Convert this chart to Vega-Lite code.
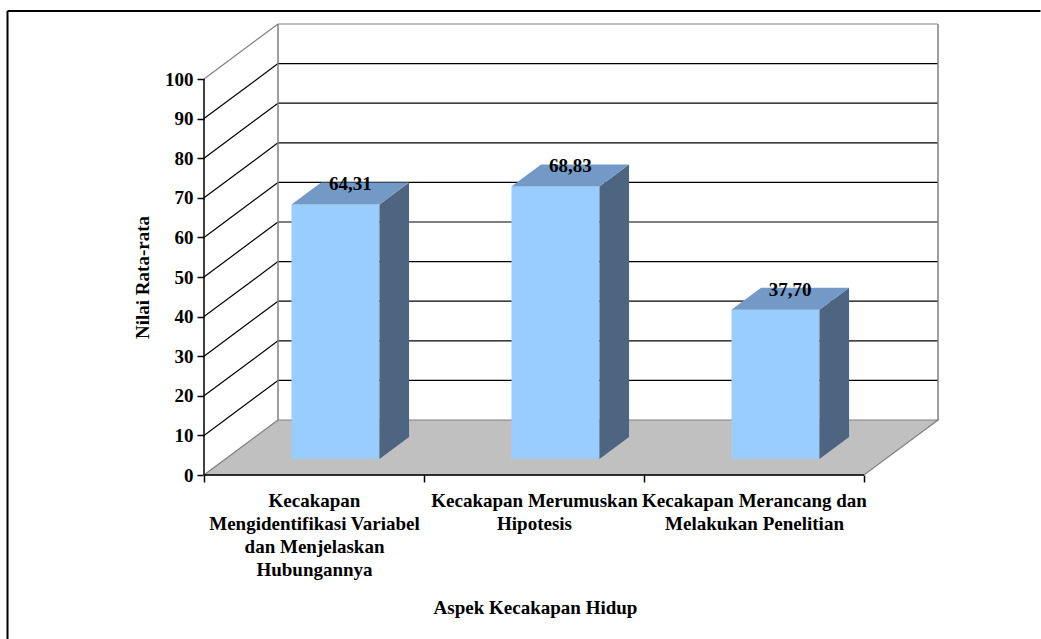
{
  "$schema": "https://vega.github.io/schema/vega-lite/v6.json",
  "width": 734,
  "height": 451,
  "autosize": {"type": "none"},
  "padding": {"left": 204, "top": 24, "right": 103, "bottom": 164},
  "background": "white",
  "config": {
    "view": {"stroke": null},
    "font": "Liberation Serif",
    "axis": {
      "labelFont": "Liberation Serif",
      "titleFont": "Liberation Serif",
      "labelFontWeight": "bold",
      "titleFontWeight": "bold",
      "labelFontSize": 19,
      "titleFontSize": 19,
      "labelColor": "#000000",
      "titleColor": "#000000",
      "tickColor": "#000000",
      "labelLimit": 0,
      "grid": false,
      "domain": false
    }
  },
  "datasets": {
    "bars": [
      {"aspek": "Kecakapan Mengidentifikasi Variabel dan Menjelaskan Hubungannya", "nilai": 64.31},
      {"aspek": "Kecakapan Merumuskan Hipotesis", "nilai": 68.83},
      {"aspek": "Kecakapan Merancang dan Melakukan Penelitian", "nilai": 37.70}
    ],
    "ticks": [
      {"t": 0}, {"t": 10}, {"t": 20}, {"t": 30}, {"t": 40}, {"t": 50},
      {"t": 60}, {"t": 70}, {"t": 80}, {"t": 90}, {"t": 100}
    ]
  },
  "layer": [
    {
      "data": {"values": [{}]},
      "mark": {"type": "rule", "color": "#000000", "strokeWidth": 2},
      "encoding": {
        "x": {"datum": -1.3932, "type": "quantitative"},
        "x2": {"datum": 3.3023},
        "y": {"datum": 117.17, "type": "quantitative"}
      }
    },
    {
      "data": {"values": [{}]},
      "mark": {"type": "rule", "color": "#000000", "strokeWidth": 2},
      "encoding": {
        "x": {"datum": -1.3932, "type": "quantitative"},
        "y": {"datum": -41.41, "type": "quantitative"},
        "y2": {"datum": 117.17}
      }
    },
    {
      "data": {"name": "ticks"},
      "transform": [
        {"filter": "datum.t == 0"},
        {"calculate": "[0, 1]", "as": "d"},
        {"flatten": ["d"]},
        {"calculate": "-0.5 + datum.d * 0.3364", "as": "fx"},
        {"calculate": "2.5 + datum.d * 0.3364", "as": "fx2"},
        {"calculate": "datum.d * 13.89", "as": "fy"}
      ],
      "mark": {"type": "area", "orient": "horizontal", "fill": "#C0C0C0", "stroke": "#808080", "strokeWidth": 1.2},
      "encoding": {
        "y": {"field": "fy", "type": "quantitative", "stack": null},
        "x": {"field": "fx", "type": "quantitative", "stack": null},
        "x2": {"field": "fx2"}
      }
    },
    {
      "data": {"name": "ticks"},
      "transform": [
        {"filter": "datum.t > 0"},
        {"calculate": "-0.1636", "as": "gx"},
        {"calculate": "2.8364", "as": "gx2"},
        {"calculate": "datum.t + 13.89", "as": "gy"}
      ],
      "mark": {"type": "rule", "strokeWidth": 1.2},
      "encoding": {
        "x": {"field": "gx", "type": "quantitative"},
        "x2": {"field": "gx2"},
        "y": {"field": "gy", "type": "quantitative"},
        "color": {"condition": {"test": "datum.t == 100", "value": "#808080"}, "value": "#000000"}
      }
    },
    {
      "data": {"name": "ticks"},
      "transform": [
        {"filter": "datum.t > 0"},
        {"calculate": "-0.5", "as": "lx"},
        {"calculate": "-0.1636", "as": "lx2"},
        {"calculate": "datum.t + 13.89", "as": "ly2"}
      ],
      "mark": {"type": "rule", "strokeWidth": 1.2},
      "encoding": {
        "x": {"field": "lx", "type": "quantitative"},
        "x2": {"field": "lx2"},
        "y": {"field": "t", "type": "quantitative"},
        "y2": {"field": "ly2"},
        "color": {"condition": {"test": "datum.t == 100", "value": "#808080"}, "value": "#000000"}
      }
    },
    {
      "data": {"name": "ticks"},
      "transform": [
        {"filter": "datum.t == 0"},
        {"calculate": "[-0.1636, 2.8364]", "as": "wx"},
        {"flatten": ["wx"]},
        {"calculate": "13.89", "as": "wy"},
        {"calculate": "113.89", "as": "wy2"}
      ],
      "mark": {"type": "rule", "color": "#808080", "strokeWidth": 1.5},
      "encoding": {
        "x": {"field": "wx", "type": "quantitative"},
        "y": {"field": "wy", "type": "quantitative"},
        "y2": {"field": "wy2"}
      }
    },
    {
      "data": {"values": [{}]},
      "mark": {"type": "rule", "color": "#000000", "strokeWidth": 1.5},
      "encoding": {
        "x": {"datum": -0.5, "type": "quantitative"},
        "y": {"datum": 0, "type": "quantitative"},
        "y2": {"datum": 100}
      }
    },
    {
      "data": {"values": [{}]},
      "mark": {"type": "rule", "color": "#000000", "strokeWidth": 1.5},
      "encoding": {
        "x": {"datum": -0.5, "type": "quantitative"},
        "x2": {"datum": 2.5},
        "y": {"datum": 0, "type": "quantitative"}
      }
    },
    {
      "data": {"name": "bars"},
      "transform": [
        {"window": [{"op": "row_number", "as": "rn"}]},
        {"calculate": "datum.rn - 1", "as": "i"},
        {"calculate": "datum.i - 0.2 + 0.0976", "as": "bx"},
        {"calculate": "datum.i + 0.2 + 0.0976", "as": "bx2"},
        {"calculate": "4.03", "as": "by"},
        {"calculate": "datum.nilai + 4.03", "as": "by2"}
      ],
      "mark": {"type": "rect", "fill": "#99CCFF"},
      "encoding": {
        "x": {
          "field": "bx",
          "type": "quantitative",
          "scale": {"domain": [-0.5, 2.8364], "nice": false, "zero": false},
          "axis": {
            "values": [-0.5, 0, 0.5, 1, 1.5, 2, 2.5],
            "tickSize": 7,
            "tickWidth": 1.5,
            "tickOpacity": {"condition": {"test": "datum.value % 1 != 0", "value": 1}, "value": 0},
            "labelExpr": "datum.value == 0 ? ['Kecakapan', 'Mengidentifikasi Variabel', 'dan Menjelaskan', 'Hubungannya'] : datum.value == 1 ? ['Kecakapan Merumuskan', 'Hipotesis'] : datum.value == 2 ? ['Kecakapan Merancang dan', 'Melakukan Penelitian'] : ''",
            "labelFont": "Liberation Serif",
            "labelFontWeight": "bold",
            "labelFontSize": 19,
            "labelLimit": 0,
            "labelPadding": 9,
            "labelLineHeight": 23,
            "labelOverlap": false,
            "labelBound": false,
            "labelFlush": false,
            "labelAlign": "center",
            "labelBaseline": "top",
            "title": "Aspek Kecakapan Hidup",
            "titleFont": "Liberation Serif",
            "titleFontWeight": "bold",
            "titleFontSize": 19,
            "titleX": 331,
            "titleY": 132,
            "titleAlign": "center",
            "titleBaseline": "middle"
          }
        },
        "x2": {"field": "bx2"},
        "y": {
          "field": "by",
          "type": "quantitative",
          "scale": {"domain": [0, 113.89], "nice": false, "zero": false},
          "axis": {
            "values": [0, 10, 20, 30, 40, 50, 60, 70, 80, 90, 100],
            "tickSize": 7,
            "tickWidth": 1.5,
            "labelFont": "Liberation Serif",
            "labelFontWeight": "bold",
            "labelFontSize": 19,
            "labelPadding": 4,
            "labelOverlap": false,
            "labelBound": false,
            "labelFlush": false,
            "title": "Nilai Rata-rata",
            "titleFont": "Liberation Serif",
            "titleFontWeight": "bold",
            "titleFontSize": 19,
            "titleX": -62,
            "titleY": 253,
            "titleAngle": -90,
            "titleAlign": "center",
            "titleBaseline": "middle"
          }
        },
        "y2": {"field": "by2"}
      }
    },
    {
      "data": {"name": "bars"},
      "transform": [
        {"window": [{"op": "row_number", "as": "rn"}]},
        {"calculate": "datum.rn - 1", "as": "i"},
        {"calculate": "[0.29, 0.69]", "as": "d"},
        {"flatten": ["d"]},
        {"calculate": "datum.i + 0.2 + datum.d * 0.3364", "as": "sx"},
        {"calculate": "datum.nilai + datum.d * 13.89", "as": "sy"},
        {"calculate": "datum.d * 13.89", "as": "sy2"}
      ],
      "mark": {"type": "area", "fill": "#4D6580"},
      "encoding": {
        "x": {"field": "sx", "type": "quantitative", "stack": null},
        "y": {"field": "sy", "type": "quantitative", "stack": null},
        "y2": {"field": "sy2"},
        "detail": {"field": "aspek"}
      }
    },
    {
      "data": {"name": "bars"},
      "transform": [
        {"window": [{"op": "row_number", "as": "rn"}]},
        {"calculate": "datum.rn - 1", "as": "i"},
        {"calculate": "[0.29, 0.69]", "as": "d"},
        {"flatten": ["d"]},
        {"calculate": "datum.i - 0.2 + datum.d * 0.3364", "as": "tx"},
        {"calculate": "datum.i + 0.2 + datum.d * 0.3364", "as": "tx2"},
        {"calculate": "datum.nilai + datum.d * 13.89", "as": "ty"}
      ],
      "mark": {"type": "area", "orient": "horizontal", "fill": "#7399C6"},
      "encoding": {
        "y": {"field": "ty", "type": "quantitative", "stack": null},
        "x": {"field": "tx", "type": "quantitative", "stack": null},
        "x2": {"field": "tx2"},
        "detail": {"field": "aspek"}
      }
    },
    {
      "data": {"name": "bars"},
      "transform": [
        {"window": [{"op": "row_number", "as": "rn"}]},
        {"calculate": "datum.rn - 1", "as": "i"},
        {"calculate": "datum.i + 0.1648", "as": "vx"},
        {"calculate": "datum.nilai + 9.58 - 0.5", "as": "vy"},
        {"calculate": "replace(format(datum.nilai, '.2f'), '.', ',')", "as": "lab"}
      ],
      "mark": {"type": "text", "font": "Liberation Serif", "fontWeight": "bold", "fontSize": 19, "color": "#000000", "align": "center", "baseline": "middle"},
      "encoding": {
        "x": {"field": "vx", "type": "quantitative"},
        "y": {"field": "vy", "type": "quantitative"},
        "text": {"field": "lab"}
      }
    }
  ]
}
